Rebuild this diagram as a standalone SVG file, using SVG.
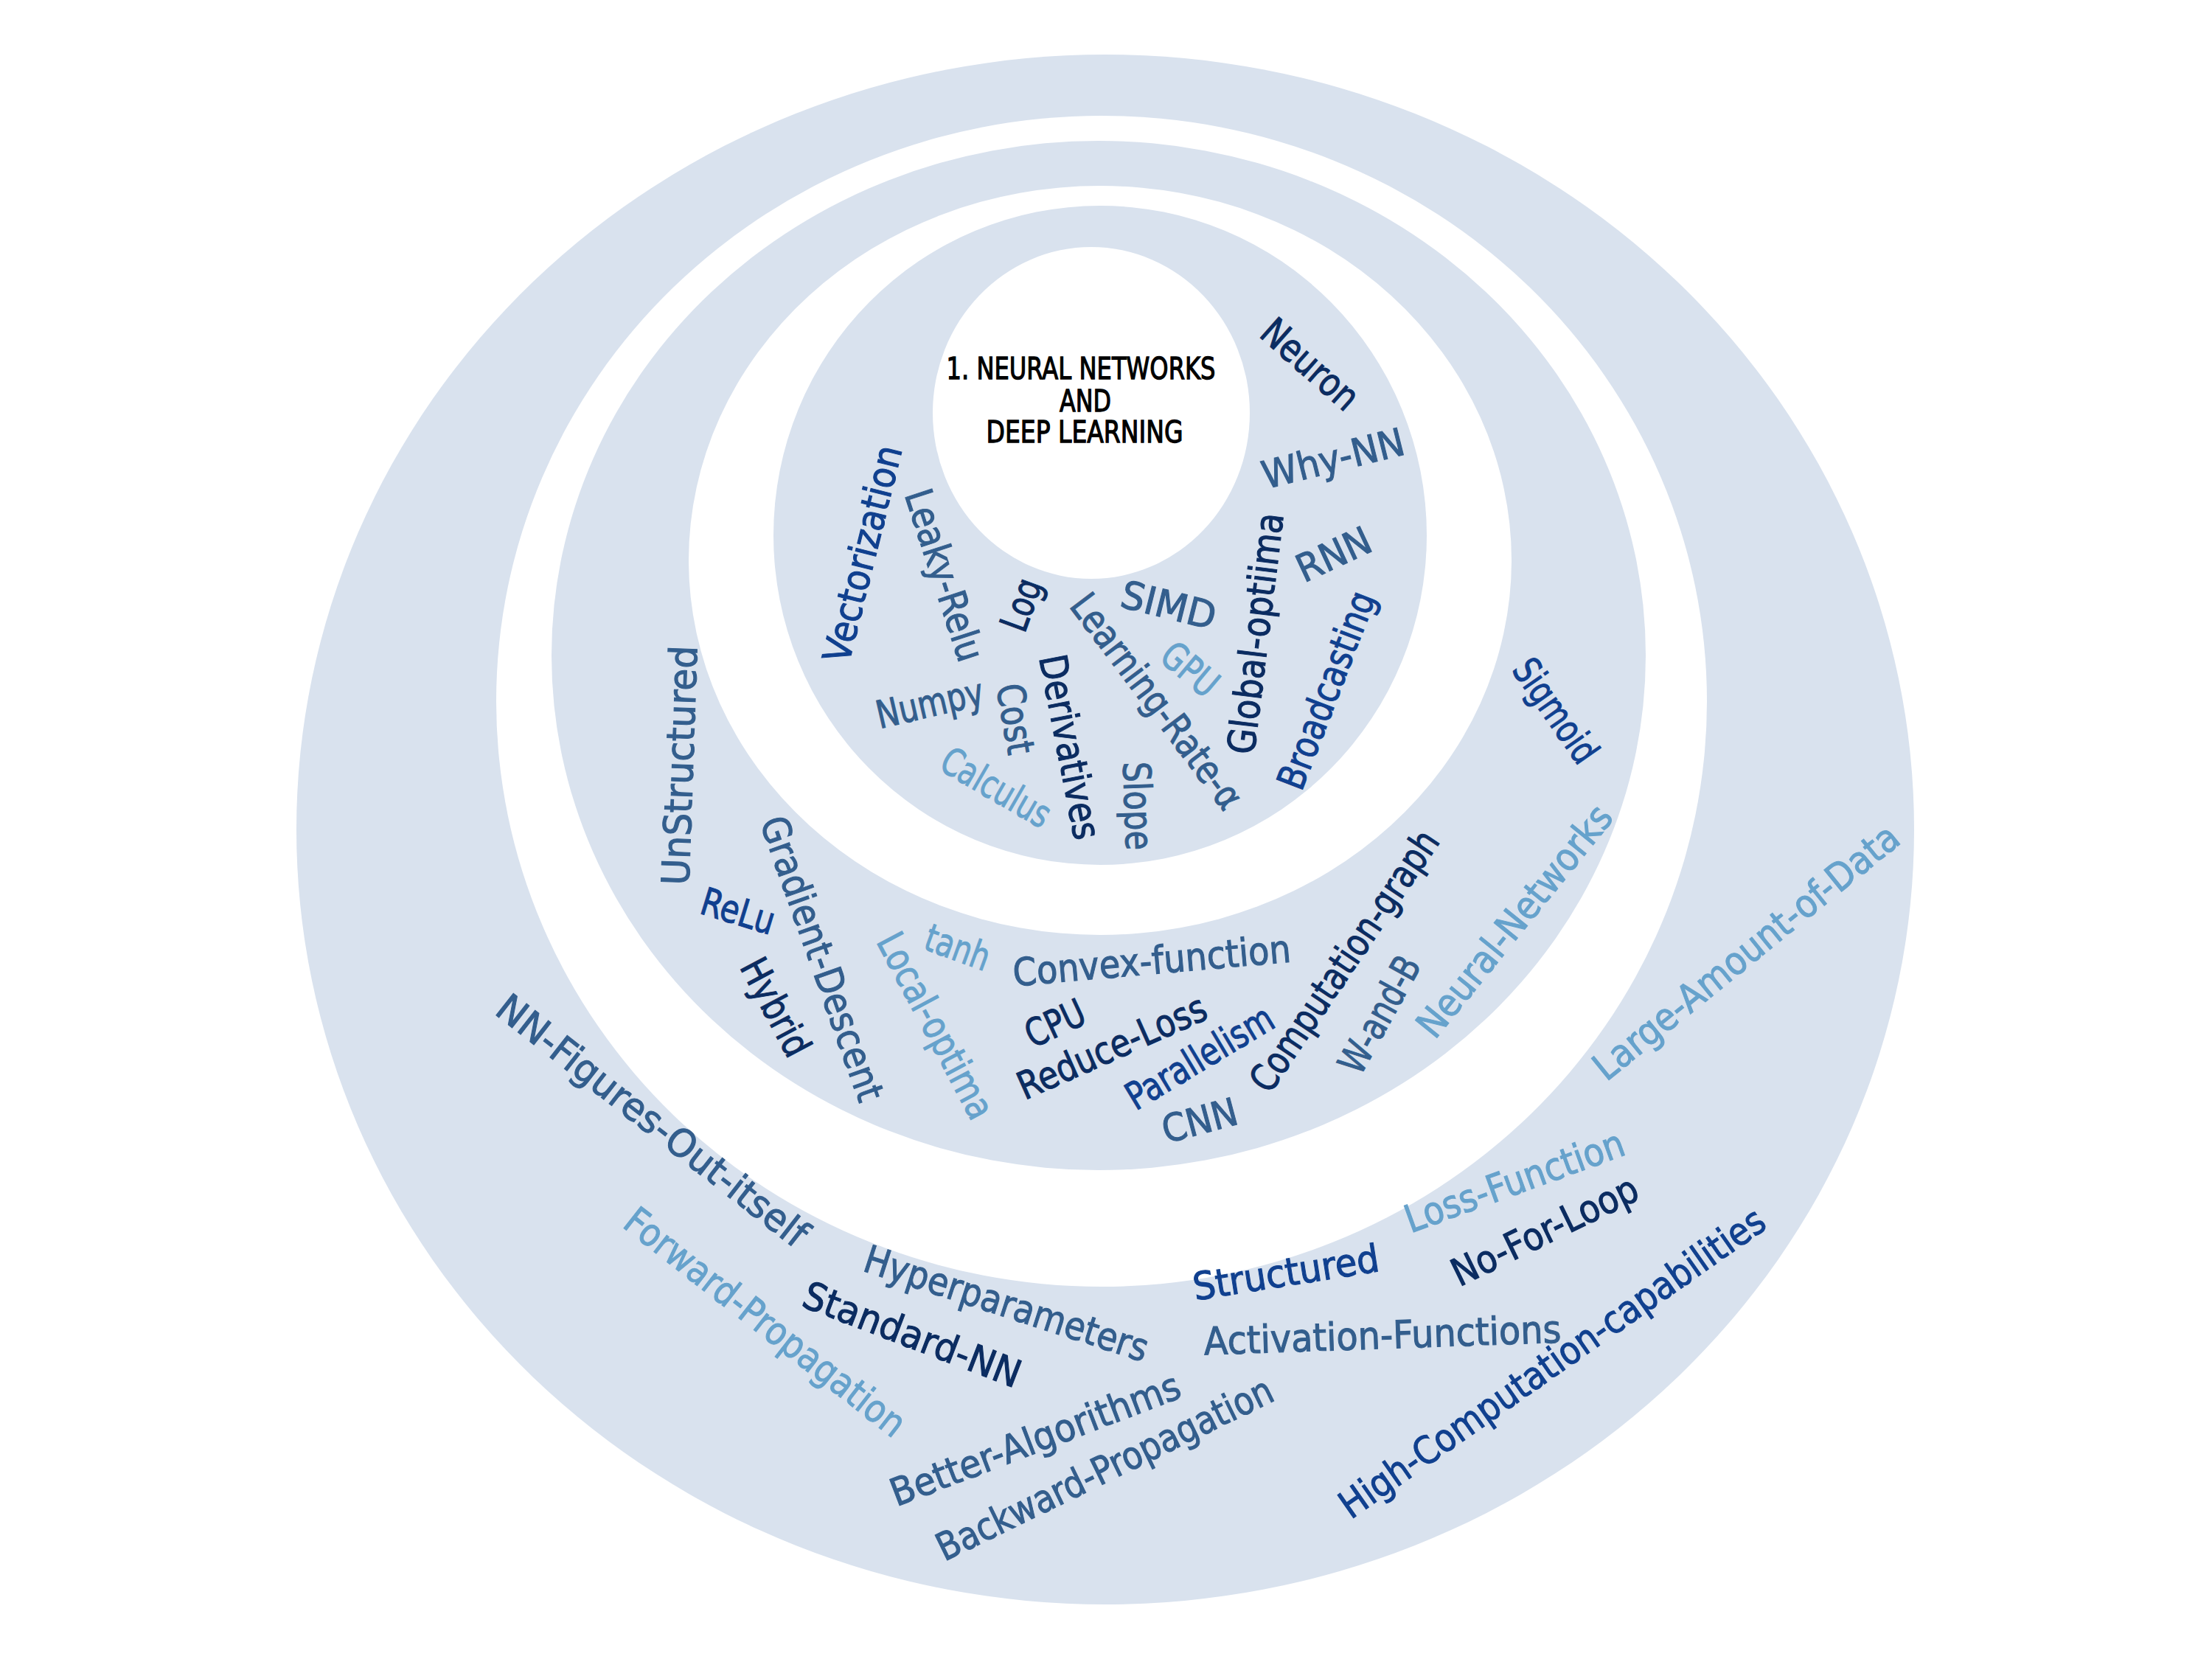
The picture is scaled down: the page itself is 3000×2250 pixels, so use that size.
<svg xmlns="http://www.w3.org/2000/svg" width="3000" height="2250" viewBox="0 0 3000 2250">
<style>
.bg{fill:#ffffff}
.band{fill:#d9e2ee}
.hole{fill:#ffffff}
.w{font-family:"DejaVu Sans","Liberation Sans",sans-serif;font-size:52px;text-anchor:middle;dominant-baseline:central;stroke-width:1.1}
.t{font-family:"DejaVu Sans","Liberation Sans",sans-serif;font-size:40px;text-anchor:middle;dominant-baseline:central;fill:#000;stroke:#000;stroke-width:1.3}
.c1{fill:#0b2c61;stroke:#0b2c61}
.c2{fill:#10408f;stroke:#10408f}
.c3{fill:#335e8d;stroke:#335e8d}
.c4{fill:#66a2cc;stroke:#66a2cc}
</style>
<rect class="bg" x="0" y="0" width="3000" height="2250"/>
<g id="rings">
<ellipse id="ring-outer" class="band" cx="1499" cy="1125" rx="1097" ry="1051"/>
<ellipse id="gap-outer" class="hole" cx="1494" cy="951" rx="821" ry="794"/>
<ellipse id="ring-middle" class="band" cx="1490" cy="889" rx="742" ry="698"/>
<ellipse id="gap-middle" class="hole" cx="1492" cy="760" rx="558" ry="508"/>
<ellipse id="ring-inner" class="band" cx="1492" cy="726" rx="443" ry="447"/>
<ellipse id="center" class="hole" cx="1480" cy="560" rx="215" ry="225"/>
</g>
<g id="title">
<text class="t" x="1466" y="500" textLength="365" lengthAdjust="spacingAndGlyphs">1. NEURAL NETWORKS</text>
<text class="t" x="1472" y="544" textLength="70" lengthAdjust="spacingAndGlyphs">AND</text>
<text class="t" x="1471" y="586" textLength="267" lengthAdjust="spacingAndGlyphs">DEEP LEARNING</text>
</g>
<g id="words-inner">
<g id="w-neuron"><text class="w c1" transform="translate(1777 494) rotate(41.5)" textLength="158" lengthAdjust="spacingAndGlyphs">Neuron</text></g>
<g id="w-why-nn"><text class="w c3" transform="translate(1808 622) rotate(-14)" textLength="197" lengthAdjust="spacingAndGlyphs">Why-NN</text></g>
<g id="w-rnn"><text class="w c3" transform="translate(1809 752) rotate(-25)" textLength="106" lengthAdjust="spacingAndGlyphs">RNN</text></g>
<g id="w-global-optiima"><text class="w c1" transform="translate(1703 859) rotate(-83)" textLength="329" lengthAdjust="spacingAndGlyphs">Global-optiima</text></g>
<g id="w-broadcasting"><text class="w c2" transform="translate(1799 936) rotate(-69)" textLength="283" lengthAdjust="spacingAndGlyphs">Broadcasting</text></g>
<g id="w-simd"><text class="w c3" transform="translate(1585 821) rotate(14)" textLength="131" lengthAdjust="spacingAndGlyphs">SIMD</text></g>
<g id="w-gpu"><text class="w c4" transform="translate(1614 908) rotate(40)" textLength="84" lengthAdjust="spacingAndGlyphs">GPU</text></g>
<g id="w-learning-rate"><text class="w c3" transform="translate(1569 951) rotate(53)" textLength="351" lengthAdjust="spacingAndGlyphs">Learning-Rate-α</text></g>
<g id="w-log"><text class="w c1" transform="translate(1385 820) rotate(-70)" textLength="72" lengthAdjust="spacingAndGlyphs">Log</text></g>
<g id="w-vectorization"><text class="w c2" transform="translate(1170 751) rotate(-76)" textLength="301" lengthAdjust="spacingAndGlyphs">Vectorization</text></g>
<g id="w-leaky-relu"><text class="w c3" transform="translate(1281 780) rotate(72)" textLength="242" lengthAdjust="spacingAndGlyphs">Leaky-Relu</text></g>
<g id="w-numpy"><text class="w c3" transform="translate(1261 954) rotate(-13)" textLength="148" lengthAdjust="spacingAndGlyphs">Numpy</text></g>
<g id="w-cost"><text class="w c3" transform="translate(1377 975) rotate(80)" textLength="96" lengthAdjust="spacingAndGlyphs">Cost</text></g>
<g id="w-derivatives"><text class="w c1" transform="translate(1451 1013) rotate(79)" textLength="254" lengthAdjust="spacingAndGlyphs">Derivatives</text></g>
<g id="w-slope"><text class="w c3" transform="translate(1543 1093) rotate(88)" textLength="120" lengthAdjust="spacingAndGlyphs">Slope</text></g>
<g id="w-calculus"><text class="w c4" transform="translate(1351 1068) rotate(30)" textLength="163" lengthAdjust="spacingAndGlyphs">Calculus</text></g>
</g>
<g id="words-middle">
<g id="w-sigmoid"><text class="w c2" transform="translate(2110 964) rotate(55)" textLength="160" lengthAdjust="spacingAndGlyphs">Sigmoid</text></g>
<g id="w-unstructured"><text class="w c3" transform="translate(922 1038) rotate(-88)" textLength="325" lengthAdjust="spacingAndGlyphs">UnStructured</text></g>
<g id="w-relu"><text class="w c2" transform="translate(1001 1236) rotate(17)" textLength="102" lengthAdjust="spacingAndGlyphs">ReLu</text></g>
<g id="w-hybrid"><text class="w c1" transform="translate(1052 1366) rotate(62)" textLength="143" lengthAdjust="spacingAndGlyphs">Hybrid</text></g>
<g id="w-gradient-descent"><text class="w c3" transform="translate(1115 1300) rotate(70.5)" textLength="406" lengthAdjust="spacingAndGlyphs">Gradient-Descent</text></g>
<g id="w-local-optima"><text class="w c4" transform="translate(1269 1391) rotate(62)" textLength="278" lengthAdjust="spacingAndGlyphs">Local-optima</text></g>
<g id="w-tanh"><text class="w c4" transform="translate(1299 1285) rotate(20)" textLength="90" lengthAdjust="spacingAndGlyphs">tanh</text></g>
<g id="w-convex-function"><text class="w c3" transform="translate(1562 1303) rotate(-5)" textLength="378" lengthAdjust="spacingAndGlyphs">Convex-function</text></g>
<g id="w-cpu"><text class="w c1" transform="translate(1431 1388) rotate(-25)" textLength="84" lengthAdjust="spacingAndGlyphs">CPU</text></g>
<g id="w-reduce-loss"><text class="w c1" transform="translate(1508 1420) rotate(-24)" textLength="275" lengthAdjust="spacingAndGlyphs">Reduce-Loss</text></g>
<g id="w-parallelism"><text class="w c2" transform="translate(1627 1434) rotate(-31)" textLength="224" lengthAdjust="spacingAndGlyphs">Parallelism</text></g>
<g id="w-cnn"><text class="w c3" transform="translate(1627 1520) rotate(-15)" textLength="104" lengthAdjust="spacingAndGlyphs">CNN</text></g>
<g id="w-computation-graph"><text class="w c1" transform="translate(1823 1303) rotate(-56)" textLength="415" lengthAdjust="spacingAndGlyphs">Computation-graph</text></g>
<g id="w-w-and-b"><text class="w c3" transform="translate(1871 1376) rotate(-61)" textLength="173" lengthAdjust="spacingAndGlyphs">W-and-B</text></g>
<g id="w-neural-networks"><text class="w c4" transform="translate(2054 1249) rotate(-51)" textLength="388" lengthAdjust="spacingAndGlyphs">Neural-Networks</text></g>
</g>
<g id="words-outer">
<g id="w-nn-figures"><text class="w c3" transform="translate(885 1520) rotate(38)" textLength="520" lengthAdjust="spacingAndGlyphs">NN-Figures-Out-itself</text></g>
<g id="w-forward-propagation"><text class="w c4" transform="translate(1038 1793) rotate(38)" textLength="468" lengthAdjust="spacingAndGlyphs">Forward-Propagation</text></g>
<g id="w-hyperparameters"><text class="w c3" transform="translate(1365 1768) rotate(18)" textLength="402" lengthAdjust="spacingAndGlyphs">Hyperparameters</text></g>
<g id="w-standard-nn"><text class="w c1" transform="translate(1237 1810) rotate(21)" textLength="312" lengthAdjust="spacingAndGlyphs">Standard-NN</text></g>
<g id="w-better-algorithms"><text class="w c3" transform="translate(1404 1952) rotate(-21)" textLength="417" lengthAdjust="spacingAndGlyphs">Better-Algorithms</text></g>
<g id="w-backward-propagation"><text class="w c3" transform="translate(1498 1992) rotate(-26)" textLength="501" lengthAdjust="spacingAndGlyphs">Backward-Propagation</text></g>
<g id="w-structured"><text class="w c2" transform="translate(1744 1726) rotate(-9)" textLength="255" lengthAdjust="spacingAndGlyphs">Structured</text></g>
<g id="w-activation-functions"><text class="w c3" transform="translate(1875 1811) rotate(-2)" textLength="485" lengthAdjust="spacingAndGlyphs">Activation-Functions</text></g>
<g id="w-no-for-loop"><text class="w c1" transform="translate(2095 1669) rotate(-26)" textLength="275" lengthAdjust="spacingAndGlyphs">No-For-Loop</text></g>
<g id="w-loss-function"><text class="w c4" transform="translate(2054 1602) rotate(-20)" textLength="313" lengthAdjust="spacingAndGlyphs">Loss-Function</text></g>
<g id="w-high-computation"><text class="w c2" transform="translate(2105 1848) rotate(-35)" textLength="692" lengthAdjust="spacingAndGlyphs">High-Computation-capabilities</text></g>
<g id="w-large-amount"><text class="w c4" transform="translate(2368 1291) rotate(-39)" textLength="517" lengthAdjust="spacingAndGlyphs">Large-Amount-of-Data</text></g>
</g>
</svg>
